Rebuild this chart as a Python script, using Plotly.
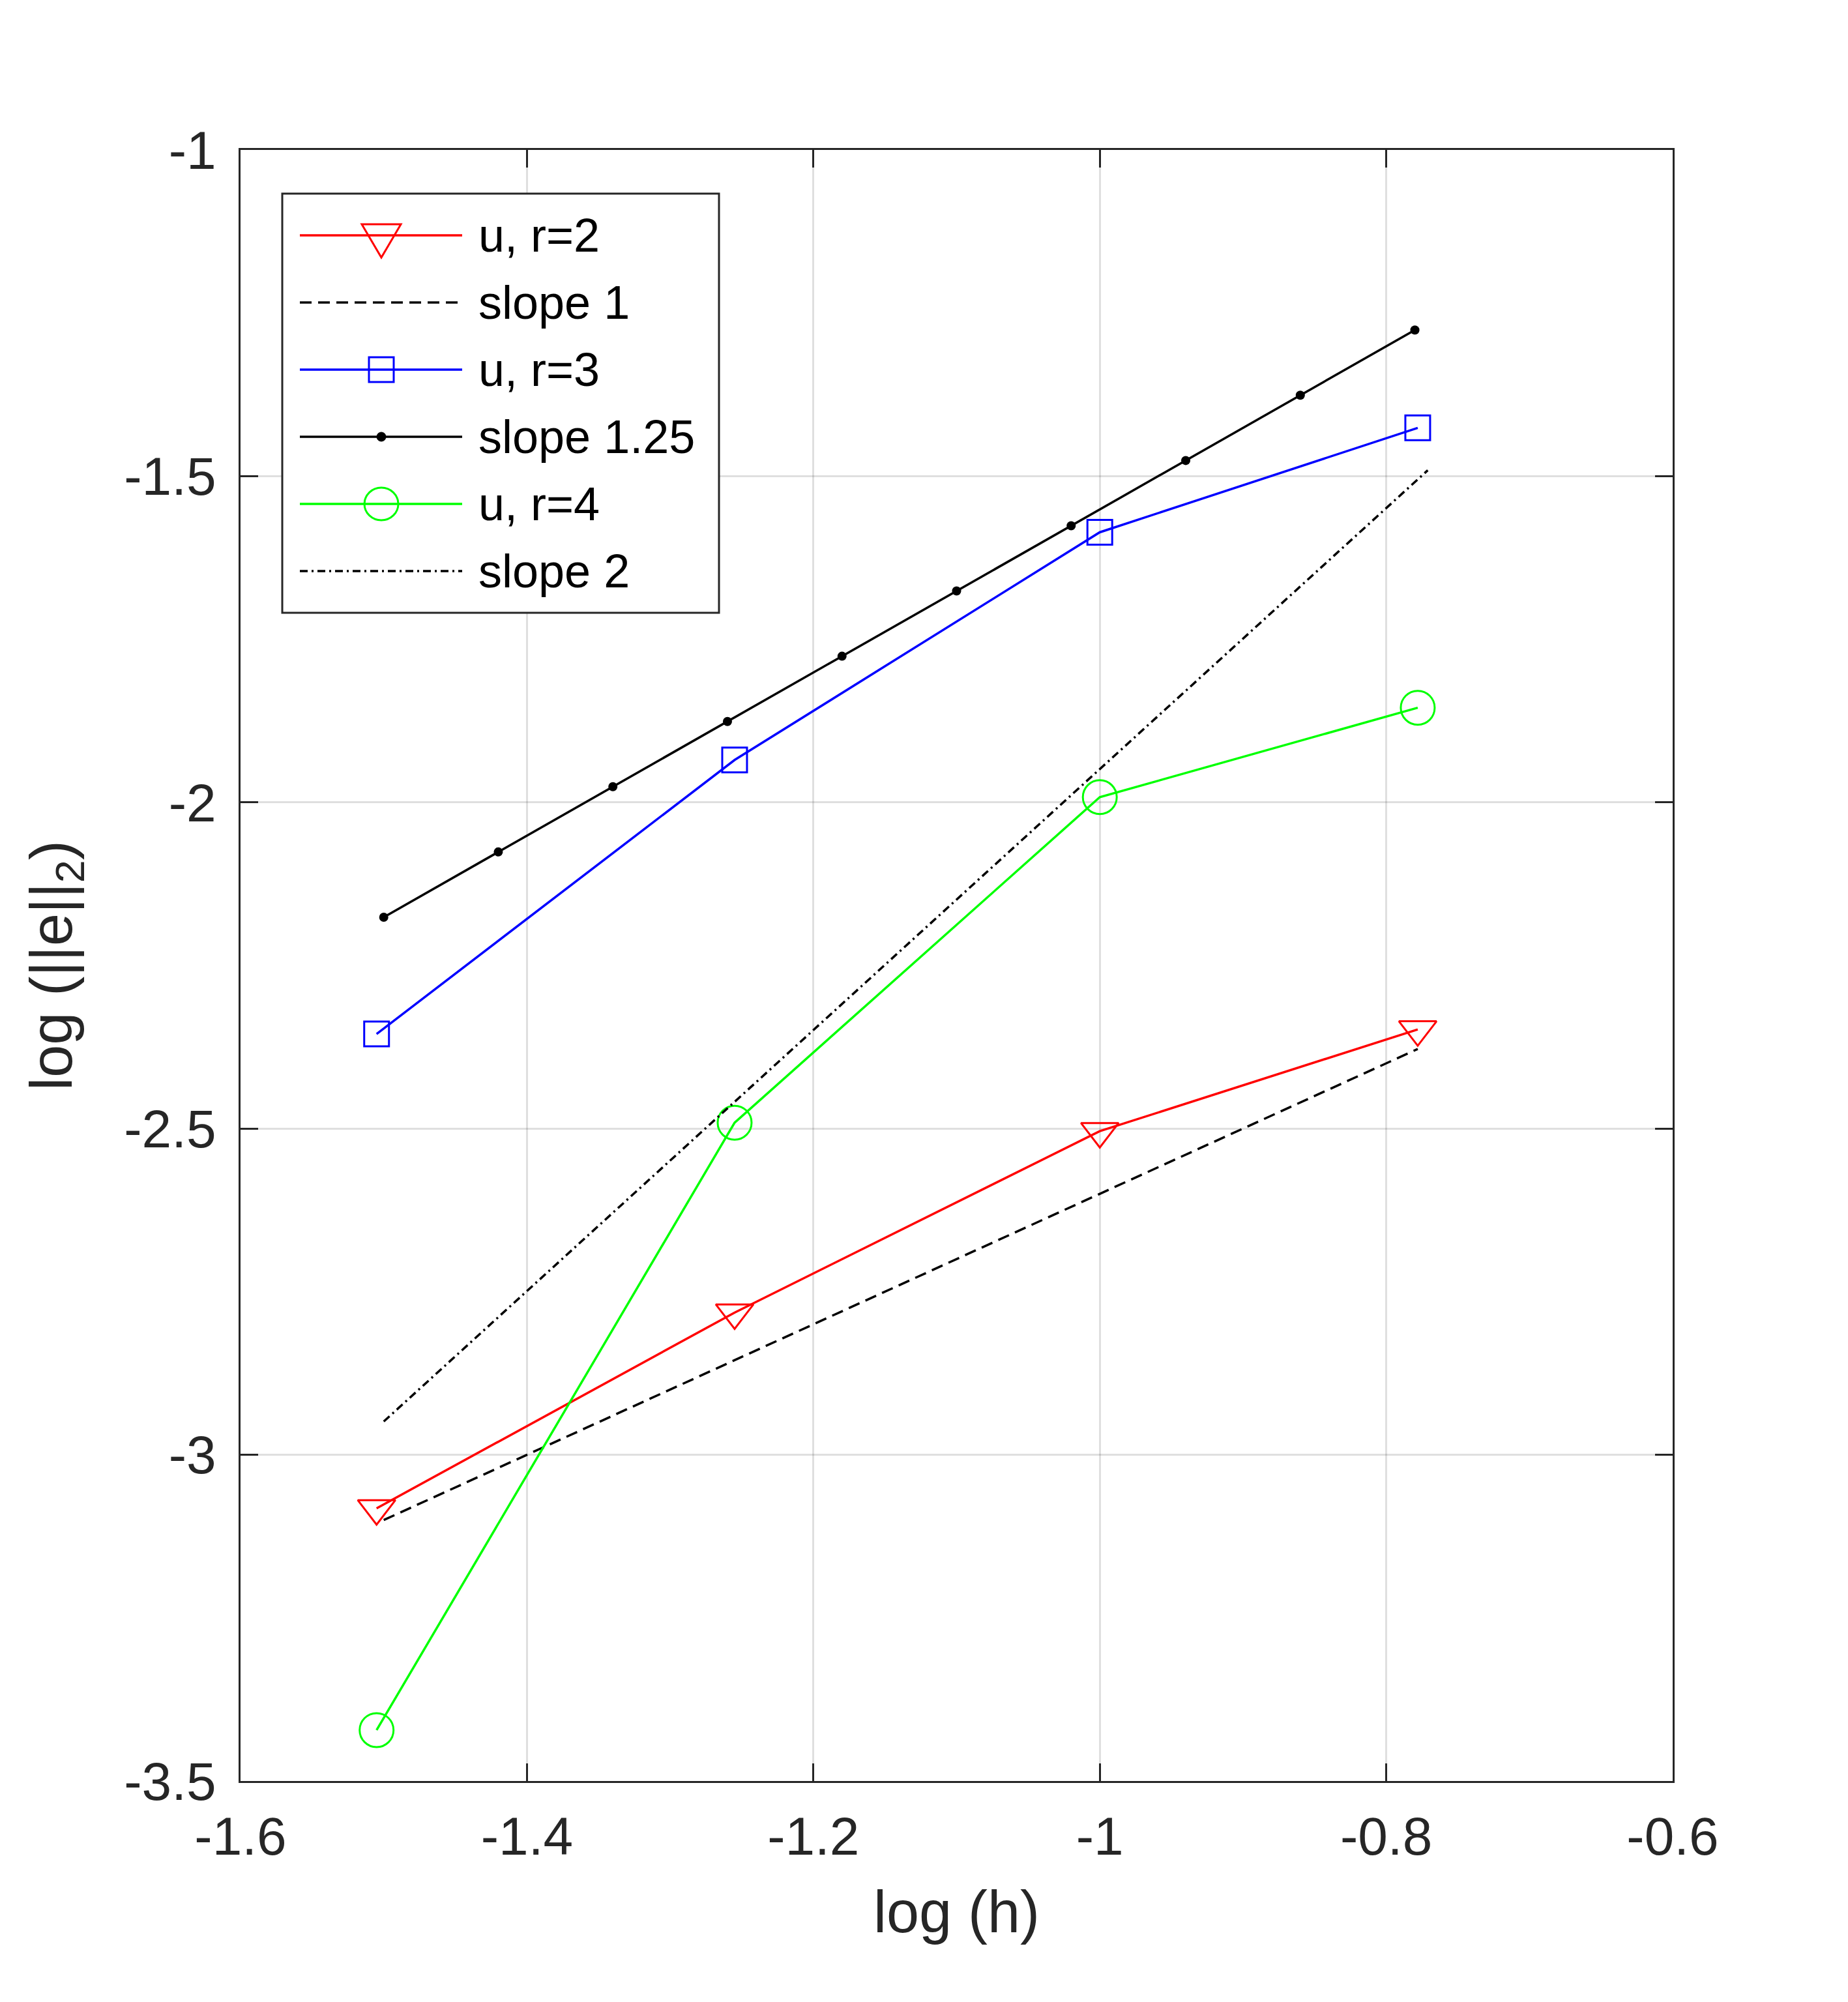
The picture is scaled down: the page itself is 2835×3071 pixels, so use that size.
import plotly.graph_objects as go

# log(h) for the four meshes (h = 1/32, 1/18, 1/10, 1/6)
log_h = [-1.505, -1.255, -1.0, -0.778]

err_r2 = [-3.082, -2.782, -2.504, -2.348]
err_r3 = [-2.355, -1.935, -1.586, -1.426]
err_r4 = [-3.422, -2.491, -1.992, -1.855]

slope1_x = [-1.500, -0.778]
slope1_y = [-3.100, -2.378]

slope125_x = [-1.50, -1.42, -1.34, -1.26, -1.18, -1.10, -1.02, -0.94, -0.86, -0.78]
slope125_y = [-2.176, -2.076, -1.976, -1.876, -1.776, -1.676, -1.576, -1.476, -1.376, -1.276]

slope2_x = [-1.500, -0.771]
slope2_y = [-2.949, -1.491]

x_tick_vals = [-1.6, -1.4, -1.2, -1.0, -0.8, -0.6]
x_tick_text = ["-1.6", "-1.4", "-1.2", "-1", "-0.8", "-0.6"]
y_tick_vals = [-3.5, -3.0, -2.5, -2.0, -1.5, -1.0]
y_tick_text = ["-3.5", "-3", "-2.5", "-2", "-1.5", "-1"]

legend_labels = ["u, r=2", "slope 1", "u, r=3", "slope 1.25", "u, r=4", "slope 2"]

FONT = "Liberation Sans, Arial, Helvetica, sans-serif"
AXC = "#262626"
LW = 3.5
# page body has an 8px margin, so the figure is 8px smaller each way
W, H = 2827, 3063
OFF = 8
M_L, M_R, M_T, M_B = 361, 269, 222, 339
PLOT_W = W - M_L - M_R
PLOT_H = H - M_T - M_B


def px(x):
    # page pixel -> paper fraction
    return (x - OFF - M_L) / PLOT_W


def py(y):
    return (H + OFF - M_B - y) / PLOT_H


fig = go.Figure()

fig.add_trace(go.Scatter(x=log_h, y=err_r2, mode="lines+markers",
                         line=dict(color="#ff0000", width=LW),
                         marker=dict(symbol="triangle-down-open", size=50,
                                     color="#ff0000", line=dict(color="#ff0000", width=3))))
fig.add_trace(go.Scatter(x=slope1_x, y=slope1_y, mode="lines",
                         line=dict(color="black", width=LW, dash="18px,10px")))
fig.add_trace(go.Scatter(x=log_h, y=err_r3, mode="lines+markers",
                         line=dict(color="#0000ff", width=LW),
                         marker=dict(symbol="square-open", size=38,
                                     color="#0000ff", line=dict(color="#0000ff", width=3))))
fig.add_trace(go.Scatter(x=slope125_x, y=slope125_y, mode="lines+markers",
                         line=dict(color="black", width=LW),
                         marker=dict(symbol="circle", size=14, color="black")))
fig.add_trace(go.Scatter(x=log_h, y=err_r4, mode="lines+markers",
                         line=dict(color="#00ff00", width=LW),
                         marker=dict(symbol="circle-open", size=52,
                                     color="#00ff00", line=dict(color="#00ff00", width=3))))
fig.add_trace(go.Scatter(x=slope2_x, y=slope2_y, mode="lines",
                         line=dict(color="black", width=LW, dash="12px,6px,3px,6px")))

# hand drawn legend (MATLAB style, long line samples)
row_y0, row_step = 361, 103
line_x0, line_x1, mark_x, text_x = 460, 709, 585, 732
shapes = [dict(type="rect", xref="paper", yref="paper",
               x0=px(433), x1=px(1103), y0=py(940), y1=py(297),
               line=dict(color=AXC, width=3), fillcolor="white", layer="above")]
legend_style = [
    ("#ff0000", "solid", "tri"),
    ("black", "18px,10px", None),
    ("#0000ff", "solid", "sq"),
    ("black", "solid", "dot"),
    ("#00ff00", "solid", "circ"),
    ("black", "12px,6px,3px,6px", None),
]
annotations = []
for i, (label, (col, dash, mk)) in enumerate(zip(legend_labels, legend_style)):
    yy = py(row_y0 + i * row_step)
    shapes.append(dict(type="line", xref="paper", yref="paper",
                       x0=px(line_x0), x1=px(line_x1), y0=yy, y1=yy,
                       line=dict(color=col, width=LW, dash=dash), layer="above"))
    anchor = dict(xref="paper", yref="paper", xsizemode="pixel", ysizemode="pixel",
                  xanchor=px(mark_x), yanchor=yy, layer="above")
    if mk == "tri":
        shapes.append(dict(type="path", path="M-30,17 L30,17 L0,-34 Z",
                           line=dict(color=col, width=3), **anchor))
    elif mk == "sq":
        shapes.append(dict(type="rect", x0=-19, x1=19, y0=-19, y1=19,
                           line=dict(color=col, width=3), **anchor))
    elif mk == "circ":
        shapes.append(dict(type="circle", x0=-26, x1=26, y0=-25, y1=25,
                           line=dict(color=col, width=3), **anchor))
    elif mk == "dot":
        shapes.append(dict(type="circle", x0=-7, x1=7, y0=-7, y1=7,
                           line=dict(color=col, width=1), fillcolor=col, **anchor))
    annotations.append(dict(xref="paper", yref="paper", x=px(text_x), y=yy,
                            xanchor="left", yanchor="middle", showarrow=False,
                            text=label, font=dict(family=FONT, size=72, color="black")))

axis_common = dict(
    showline=True, linecolor=AXC, linewidth=3, mirror="ticks",
    ticks="inside", ticklen=27, tickwidth=3, tickcolor=AXC,
    showgrid=True, gridcolor="rgba(38,38,38,0.15)", gridwidth=3,
    zeroline=False,
    tickfont=dict(family=FONT, size=82, color=AXC),
)

fig.update_layout(
    width=W, height=H, autosize=False,
    margin=dict(l=M_L, r=M_R, t=M_T, b=M_B, pad=0),
    paper_bgcolor="white", plot_bgcolor="white",
    showlegend=False,
    shapes=shapes,
    annotations=annotations,
    xaxis=dict(range=[-1.6, -0.6], tickvals=x_tick_vals, ticktext=x_tick_text,
               ticklabelstandoff=12,
               title=dict(text="log (h)", font=dict(family=FONT, size=90, color=AXC), standoff=40),
               **axis_common),
    yaxis=dict(range=[-3.5, -1.0], tickvals=y_tick_vals, ticktext=y_tick_text,
               ticklabelstandoff=18,
               title=dict(text="log (||e||<sub>2</sub>)", font=dict(family=FONT, size=90, color=AXC), standoff=50),
               **axis_common),
)

fig.write_html("out.html")
